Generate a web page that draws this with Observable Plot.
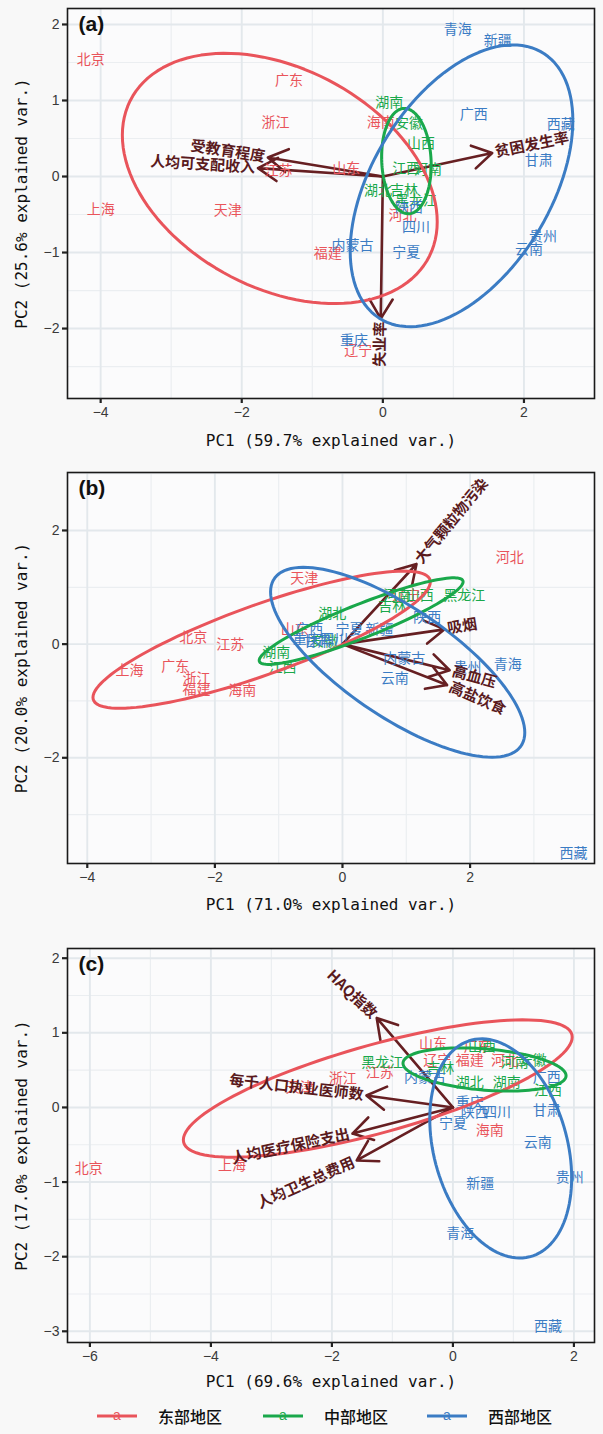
<!DOCTYPE html>
<html><head><meta charset="utf-8">
<script src="https://cdn.jsdelivr.net/npm/d3@7"></script>
<script src="https://cdn.jsdelivr.net/npm/@observablehq/plot@0.6"></script>
<style>
body{margin:0;background:#f8f8f8;width:603px;overflow:hidden;}
#charts svg{display:block;}
#legend{position:relative;width:603px;height:36px;font-family:"Noto Sans CJK SC";}
#legend .item{position:absolute;top:0;height:36px;display:flex;align-items:center;}
#legend .lab{font-size:16px;font-weight:500;color:#111;margin-left:21px;}
</style></head><body>
<div id="charts"></div>
<div id="legend"></div>
<script>
// ---------------- data ----------------
const regions = ["东部地区", "中部地区", "西部地区"];
const regionColors = ["#e9545b", "#1aa84b", "#3b7cc4"];
const provinces = ["北京","天津","河北","辽宁","上海","江苏","浙江","福建","山东","广东","海南",
  "山西","吉林","黑龙江","安徽","江西","河南","湖北","湖南",
  "内蒙古","广西","重庆","四川","贵州","云南","西藏","陕西","甘肃","青海","宁夏","新疆"];
const provinceRegion = ["东部地区","东部地区","东部地区","东部地区","东部地区","东部地区","东部地区","东部地区","东部地区","东部地区","东部地区",
  "中部地区","中部地区","中部地区","中部地区","中部地区","中部地区","中部地区","中部地区",
  "西部地区","西部地区","西部地区","西部地区","西部地区","西部地区","西部地区","西部地区","西部地区","西部地区","西部地区","西部地区"];

// panel (a)
const aPC1 = [-4.14,-2.20,0.28,-0.35,-4.00,-1.48,-1.52,-0.78,-0.52,-1.33,-0.03,
  0.54,0.30,0.47,0.37,0.33,0.64,-0.07,0.09,
  -0.43,1.29,-0.41,0.47,2.27,2.07,2.52,0.37,2.21,1.06,0.33,1.63];
const aPC2 = [1.54,-0.45,-0.51,-2.29,-0.43,0.08,0.71,-1.01,0.11,1.26,0.71,
  0.43,-0.18,-0.32,0.70,0.11,0.09,-0.18,0.97,
  -0.91,0.82,-2.16,-0.67,-0.79,-0.96,0.68,-0.41,0.21,1.93,-1.00,1.79];
const aVarNames = ["受教育程度","人均可支配收入","贫困发生率","失业率"];
const aVarPC1 = [-1.63,-1.77,1.55,-0.03];
const aVarPC2 = [0.25,0.11,0.31,-1.87];

// panel (b)
const bPC1 = [-2.34,-0.60,2.62,1.00,-3.34,-1.76,-2.29,-2.29,-0.75,-2.62,-1.57,
  1.21,0.78,1.91,-0.28,-0.94,0.86,-0.16,-1.04,
  0.97,-0.52,-0.56,-0.13,1.96,0.82,3.62,1.33,-0.39,2.59,0.11,0.58];
const bPC2 = [0.12,1.15,1.52,0.86,-0.46,0.00,-0.60,-0.79,0.26,-0.39,-0.81,
  0.85,0.67,0.85,0.05,-0.42,0.85,0.53,-0.14,
  -0.25,0.26,0.09,0.09,-0.42,-0.60,-3.68,0.46,0.05,-0.35,0.26,0.26];
const bVarNames = ["大气颗粒物污染","吸烟","高血压","高盐饮食"];
const bVarPC1 = [1.16,1.60,1.68,1.64];
const bVarPC2 = [1.41,0.26,-0.46,-0.72];

// panel (c)
const cPC1 = [-6.02,-2.53,0.86,-0.26,-3.65,-1.21,-1.82,0.28,-0.33,0.41,0.61,
  0.48,-0.21,-1.17,1.32,1.57,1.02,0.28,0.89,
  -0.46,1.55,0.28,0.73,1.93,1.40,1.57,0.36,1.55,0.12,0.00,0.45];
const cPC2 = [-0.82,0.27,0.63,0.63,-0.78,0.47,0.39,0.63,0.86,0.82,-0.31,
  0.81,0.52,0.60,0.63,0.23,0.60,0.34,0.34,
  0.40,0.40,0.07,-0.07,-0.94,-0.47,-2.94,-0.07,-0.04,-1.69,-0.22,-1.02];
const cVarNames = ["HAQ指数","每千人口执业医师数","人均医疗保险支出","人均卫生总费用"];
const cVarPC1 = [-1.26,-1.43,-1.66,-1.59];
const cVarPC2 = [1.20,0.16,-0.35,-0.71];

// ---------------- helpers ----------------
const ARROW = "#661f22";
const VARTEXT = "#5a1a1d";
const CJK = "Noto Sans CJK SC";
const fmt = d => (d < 0 ? "\u2212" : "") + Math.abs(d);

function ellipse(pts) {
  const n = pts.length;
  const mx = d3.mean(pts, d => d.x), my = d3.mean(pts, d => d.y);
  let sxx = 0, syy = 0, sxy = 0;
  for (const p of pts) { sxx += (p.x - mx) ** 2; syy += (p.y - my) ** 2; sxy += (p.x - mx) * (p.y - my); }
  sxx /= n - 1; syy /= n - 1; sxy /= n - 1;
  const a = Math.sqrt(sxx), b = sxy / a, c = Math.sqrt(Math.max(syy - b * b, 0));
  const ed = Math.sqrt(-2 * Math.log(1 - 0.68));
  return d3.range(121).map(i => {
    const t = -Math.PI + 2 * Math.PI * i / 120, u = Math.cos(t), v = Math.sin(t);
    return {x: mx + ed * u * a, y: my + ed * (u * b + v * c), region: pts[0].region};
  });
}

function panel(o) {
  const pts = provinces.map((name, i) => ({name, region: provinceRegion[i], x: o.pc1[i], y: o.pc2[i]}));
  const vars = o.varNames.map((name, i) => ({name, x: o.varPC1[i], y: o.varPC2[i]}));
  const ell = regions.flatMap(r => ellipse(pts.filter(p => p.region === r)));
  const ang = d => -Math.atan(d.y / d.x) * 180 / Math.PI;
  return Plot.plot({
    width: 603, height: o.height,
    marginLeft: 67, marginRight: 9, marginTop: o.marginTop, marginBottom: o.marginBottom,
    style: {background: "transparent", overflow: "visible"},
    x: {domain: o.xDomain, axis: null},
    y: {domain: o.yDomain, axis: null},
    color: {domain: regions, range: regionColors},
    marks: [
      Plot.frame({fill: "#fbfbfc", stroke: null}),
      Plot.gridX(o.xMinor, {stroke: "#ebeef1", strokeOpacity: 1, strokeWidth: 1.2}),
      Plot.gridY(o.yMinor, {stroke: "#ebeef1", strokeOpacity: 1, strokeWidth: 1.2}),
      Plot.gridX(o.xMajor, {stroke: "#e3e8ec", strokeOpacity: 1, strokeWidth: 1.9}),
      Plot.gridY(o.yMajor, {stroke: "#e3e8ec", strokeOpacity: 1, strokeWidth: 1.9}),
      Plot.arrow(vars, {x1: () => 0, y1: () => 0, x2: "x", y2: "y", stroke: ARROW, strokeWidth: 2.6, headLength: 13, headAngle: 62}),
      Plot.text(pts, {x: "x", y: "y", text: "name", fill: "region", fontSize: 14, fontFamily: CJK}),
      Plot.line(ell, {x: "x", y: "y", z: "region", stroke: "region", strokeWidth: 3, curve: "linear"}),
      Plot.text(vars.filter(d => d.x >= 0), {x: "x", y: "y", text: d => "\u2009" + d.name, rotate: ang, textAnchor: "start",
        fill: VARTEXT, fontSize: 15, fontWeight: "bold", fontFamily: CJK}),
      Plot.text(vars.filter(d => d.x < 0), {x: "x", y: "y", text: d => d.name + "\u2009", rotate: ang, textAnchor: "end",
        fill: VARTEXT, fontSize: 15, fontWeight: "bold", fontFamily: CJK}),
      Plot.frame({stroke: "#1a1a1a", strokeWidth: 1.6}),
      Plot.axisX(o.xMajor, {tickSize: 5, tickPadding: 4, strokeWidth: 2.2, stroke: "#222", fontSize: 14, fill: "#3a3a3a",
        fontFamily: "Liberation Sans", label: null, tickFormat: fmt}),
      Plot.axisY(o.yMajor, {tickSize: 5, tickPadding: 3, strokeWidth: 2.2, stroke: "#222", fontSize: 14, fill: "#3a3a3a",
        fontFamily: "Liberation Sans", label: null, tickFormat: fmt}),
      Plot.text([o.label], {frameAnchor: "top-left", dx: 11, dy: 16, textAnchor: "start", lineAnchor: "middle",
        fontSize: 21, fontWeight: "bold", fontFamily: "Liberation Sans", fill: "#111"}),
      Plot.text([o.xTitle], {frameAnchor: "bottom", dy: o.xTitleDy, textAnchor: "middle", lineAnchor: "middle",
        fontSize: 16, fontFamily: "DejaVu Sans Mono", fill: "#111"}),
      Plot.text([o.yTitle], {frameAnchor: "left", dx: -46, rotate: -90, textAnchor: "middle", lineAnchor: "middle",
        fontSize: 16, fontFamily: "DejaVu Sans Mono", fill: "#111"})
    ]
  });
}

const charts = document.getElementById("charts");
charts.append(panel({
  label: "(a)", height: 460, marginTop: 8, marginBottom: 62, xTitleDy: 42,
  xDomain: [-4.47, 3.0], yDomain: [-2.92, 2.21],
  xMajor: [-4, -2, 0, 2], xMinor: [-3, -1, 1, 3],
  yMajor: [-2, -1, 0, 1, 2], yMinor: [-2.5, -1.5, -0.5, 0.5, 1.5],
  pc1: aPC1, pc2: aPC2, varNames: aVarNames, varPC1: aVarPC1, varPC2: aVarPC2,
  xTitle: "PC1 (59.7% explained var.)", yTitle: "PC2 (25.6% explained var.)"
}));
charts.append(panel({
  label: "(b)", height: 478, marginTop: 12, marginBottom: 75, xTitleDy: 41,
  xDomain: [-4.31, 3.95], yDomain: [-3.86, 3.02],
  xMajor: [-4, -2, 0, 2], xMinor: [-3, -1, 1, 3],
  yMajor: [-2, 0, 2], yMinor: [-3, -1, 1, 3],
  pc1: bPC1, pc2: bPC2, varNames: bVarNames, varPC1: bVarPC1, varPC2: bVarPC2,
  xTitle: "PC1 (71.0% explained var.)", yTitle: "PC2 (20.0% explained var.)"
}));
charts.append(panel({
  label: "(c)", height: 460, marginTop: 10, marginBottom: 56, xTitleDy: 39,
  xDomain: [-6.37, 2.34], yDomain: [-3.15, 2.13],
  xMajor: [-6, -4, -2, 0, 2], xMinor: [-5, -3, -1, 1],
  yMajor: [-3, -2, -1, 0, 1, 2], yMinor: [-2.5, -1.5, -0.5, 0.5, 1.5],
  pc1: cPC1, pc2: cPC2, varNames: cVarNames, varPC1: cVarPC1, varPC2: cVarPC2,
  xTitle: "PC1 (69.6% explained var.)", yTitle: "PC2 (17.0% explained var.)"
}));

// legend
const legend = document.getElementById("legend");
const legendLeft = [97, 263, 427];
regions.forEach((r, i) => {
  const item = document.createElement("div");
  item.className = "item";
  item.style.left = legendLeft[i] + "px";
  item.innerHTML = `<svg width="40" height="22"><line x1="0" x2="40" y1="11" y2="11" stroke="${regionColors[i]}" stroke-width="3"/>` +
    `<text x="20" y="15" text-anchor="middle" font-size="14" font-family="Liberation Sans" fill="${regionColors[i]}">a</text></svg>` +
    `<span class="lab">${r}</span>`;
  legend.append(item);
});
</script>
</body></html>
